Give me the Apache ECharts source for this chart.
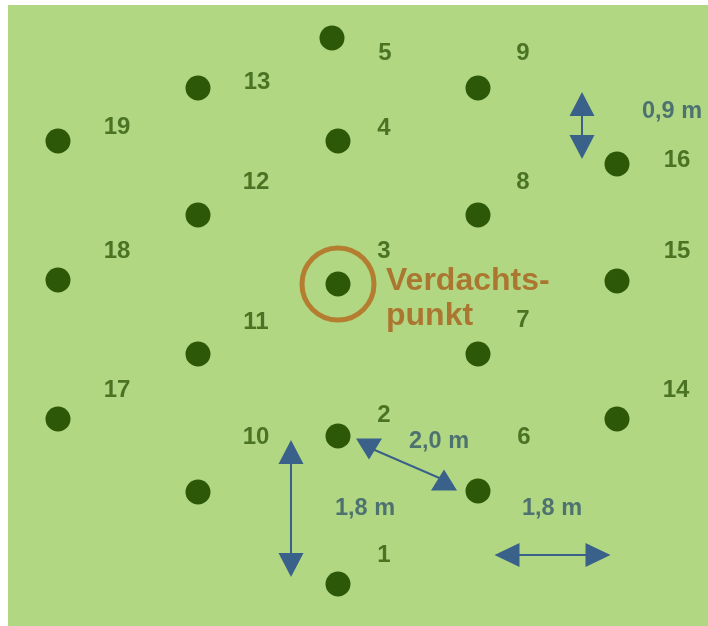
<!DOCTYPE html>
<html>
<head>
<meta charset="utf-8">
<script src="https://cdn.jsdelivr.net/npm/echarts@6/dist/echarts.min.js"></script>
<style>
html,body{margin:0;padding:0;background:#ffffff;}
#chart{width:708px;height:626px;}
</style>
</head>
<body>
<div id="chart"></div>
<script>
const pointNames = ['1','2','3','4','5','6','7','8','9','10','11','12','13','14','15','16','17','18','19'];
const pointX = [338, 338, 338, 338, 332, 478, 478, 478, 478, 198, 198, 198, 198, 617, 617, 617, 58, 58, 58];
const pointY = [584, 436, 284, 141, 38, 491, 354, 215, 88, 492, 354, 215, 88, 419, 281, 164, 419, 280, 141];

// Number label positions
const labelX = [384, 384, 384, 384, 385, 524, 523, 523, 523, 256, 256, 256, 257, 676, 677, 677, 117, 117, 117];
const labelY = [555, 415, 251, 128, 53, 437, 320, 182, 53, 437, 322, 182, 82, 390, 251, 160, 390, 251, 127];

// Suspect point
const suspectName = 'Verdachtspunkt';
const suspectX = 338;
const suspectY = 284;
const suspectTexts = ['Verdachts-', 'punkt'];
const suspectTextX = [386, 386];
const suspectTextY = [281, 316];

// Distance annotations
const distTexts = ['0,9 m', '2,0 m', '1,8 m', '1,8 m'];
const distTextX = [672, 439, 365, 552];
const distTextY = [112, 442, 509, 509];

// Arrow shafts [x1, y1, x2, y2]
const arrowStartX = [582, 291, 507, 370];
const arrowStartY = [104, 452, 555, 448];
const arrowEndX = [582, 291, 598, 444];
const arrowEndY = [147, 565, 555, 480];

// Arrow heads
const headX = [582, 582, 291, 291, 507, 598, 369, 444];
const headY = [104, 147, 452, 565, 555, 555, 449, 480];
const headRotate = [0, 180, 0, 180, 90, -90, 180, 0];
const headW = [25, 25, 25, 25, 24, 24, 26, 26];
const headH = [24, 24, 24, 24, 25, 25, 21, 21];

const dotColor = '#2d5808';
const numColor = '#2f5b0d';
const dimColor = '#35596b';
const arrowColor = '#3a6189';
const ringColor = '#b4661c';
const suspectColor = '#a95f1c';
const bgColor = '#b2d783';

const chart = echarts.init(document.getElementById('chart'), null, {renderer: 'canvas'});

const dots = pointNames.map((n, i) => ({name: n, value: [pointX[i], pointY[i]]}));
const numLabels = pointNames.map((n, i) => ({name: n, value: [labelX[i], labelY[i]]}));
const suspectLabels = suspectTexts.map((t, i) => ({name: t, value: [suspectTextX[i], suspectTextY[i]]}));
const distLabels = distTexts.map((t, i) => ({name: t, value: [distTextX[i], distTextY[i]]}));
const shafts = arrowStartX.map((x, i) => ({coords: [[x, arrowStartY[i]], [arrowEndX[i], arrowEndY[i]]]}));
const heads = headX.map((x, i) => ({
  value: [x, headY[i]],
  symbolRotate: headRotate[i],
  symbolSize: [headW[i], headH[i]]
}));

const textFont = 'Liberation Sans, Arial, sans-serif';

chart.setOption({
  animation: false,
  backgroundColor: '#ffffff',
  grid: {left: 8, right: 0, top: 5, bottom: 0, show: true, backgroundColor: bgColor, borderWidth: 0},
  xAxis: {type: 'value', min: 8, max: 708, show: false},
  yAxis: {type: 'value', min: 5, max: 626, inverse: true, show: false},
  series: [
    {
      type: 'lines',
      coordinateSystem: 'cartesian2d',
      data: shafts,
      symbol: ['none', 'none'],
      lineStyle: {color: arrowColor, width: 2, opacity: 1},
      silent: true,
      z: 2
    },
    {
      type: 'scatter',
      data: heads,
      symbol: 'triangle',
      itemStyle: {color: arrowColor, opacity: 1},
      silent: true,
      z: 3
    },
    {
      type: 'scatter',
      data: [{name: suspectName, value: [suspectX, suspectY]}],
      symbol: 'circle',
      symbolSize: 72,
      itemStyle: {color: 'rgba(0,0,0,0)', borderColor: ringColor, borderWidth: 5},
      silent: true,
      z: 3
    },
    {
      type: 'scatter',
      data: dots,
      symbol: 'circle',
      symbolSize: 25,
      itemStyle: {color: dotColor, opacity: 1},
      silent: true,
      z: 4
    },
    {
      type: 'scatter',
      data: numLabels,
      symbolSize: 0,
      itemStyle: {color: 'rgba(0,0,0,0)'},
      label: {show: true, position: 'inside', formatter: '{b}', color: numColor,
        fontSize: 24, fontWeight: 'bold', fontFamily: textFont},
      silent: true,
      z: 5
    },
    {
      type: 'scatter',
      data: distLabels,
      symbolSize: 0,
      itemStyle: {color: 'rgba(0,0,0,0)'},
      label: {show: true, position: 'inside', formatter: '{b}', color: dimColor,
        fontSize: 23.5, fontWeight: 'bold', fontFamily: textFont},
      silent: true,
      z: 5
    },
    {
      type: 'scatter',
      data: suspectLabels,
      symbolSize: 0,
      itemStyle: {color: 'rgba(0,0,0,0)'},
      label: {show: true, position: 'inside', align: 'left', formatter: '{b}', color: suspectColor,
        fontSize: 32, fontWeight: 'bold', fontFamily: textFont},
      silent: true,
      z: 5
    }
  ]
});
</script>
</body>
</html>
